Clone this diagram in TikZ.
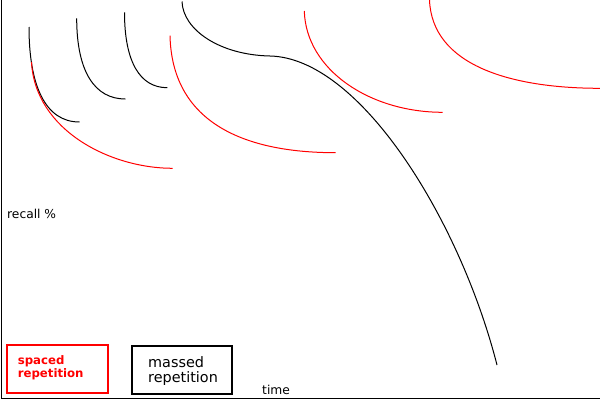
\documentclass[tikz,border=0pt]{standalone}
\usepackage{fontspec}
\setmainfont{DejaVu Sans}
\tikzset{every picture/.style={line width=0.75pt}}
\tikzset{
  spaced/.style={color={rgb, 255:red, 255; green, 0; blue, 0 }, opacity=1},
  massed/.style={color={rgb, 255:red, 0; green, 0; blue, 0 }, opacity=1},
}

\begin{document}
\begin{tikzpicture}[x=0.75pt,y=0.75pt,yscale=-1,xscale=1]
\useasboundingbox (0,0) rectangle (600,400);

%Straight Lines [id:axes] 
\draw [line width=1.2]  (1.5,0) -- (1.5,398.3) -- (600,398.3) ;

%Curve Lines [id:massed1] 
\draw [massed]  (29,27) .. controls (29,85) and (45,122) .. (79.5,122) ;
%Curve Lines [id:massed2] 
\draw [massed]  (76.7,18.3) .. controls (76.7,72) and (95,99) .. (125.3,99) ;
%Curve Lines [id:massed3] 
\draw [massed]  (124.5,12.3) .. controls (124.5,62) and (140,87.7) .. (167.3,87.7) ;
%Curve Lines [id:massed4] 
\draw [massed]  (182,1.5) .. controls (183,30) and (220,55) .. (270,56) .. controls (360,58) and (460,220) .. (497,365) ;

%Curve Lines [id:spaced1] 
\draw [spaced]  (31.5,62) .. controls (35,130) and (110,168.3) .. (172.7,168.3) ;
%Curve Lines [id:spaced2] 
\draw [spaced]  (170,35.7) .. controls (172,120) and (240,152.7) .. (335.7,152.7) ;
%Curve Lines [id:spaced3] 
\draw [spaced]  (304.3,11) .. controls (306,70) and (370,112.3) .. (442.7,112.3) ;
%Curve Lines [id:spaced4] 
\draw [spaced]  (429.5,0) .. controls (432,65) and (510,88.3) .. (600,88.3) ;

%Shape: Rectangle [id:spacedbox] 
\draw [spaced, line width=1.5]  (6.7,345) rectangle (108.3,393.3) ;
%Shape: Rectangle [id:massedbox] 
\draw [massed, line width=1.5]  (132.3,345.7) rectangle (231.7,394) ;

% Text Node
\draw (6.7,218.3) node (recall) [anchor=base west][inner sep=0pt] {\fontsize{9.2}{11}\selectfont recall \%};
% Text Node
\draw (261.7,394) node (time) [anchor=base west][inner sep=0pt] {\fontsize{9.2}{11}\selectfont time};
% Text Node
\draw (17.3,355.1) node (spacedtext) [anchor=north west][inner sep=0pt] [spaced] [align=left, font=\fontsize{8.8}{9.5}\selectfont\bfseries] {spaced\\repetition};
% Text Node
\draw (147.7,355.8) node (massedtext) [anchor=north west][inner sep=0pt] [massed] [align=left, font=\fontsize{10.8}{11.25}\selectfont] {massed\\repetition};

\end{tikzpicture}
\end{document}
